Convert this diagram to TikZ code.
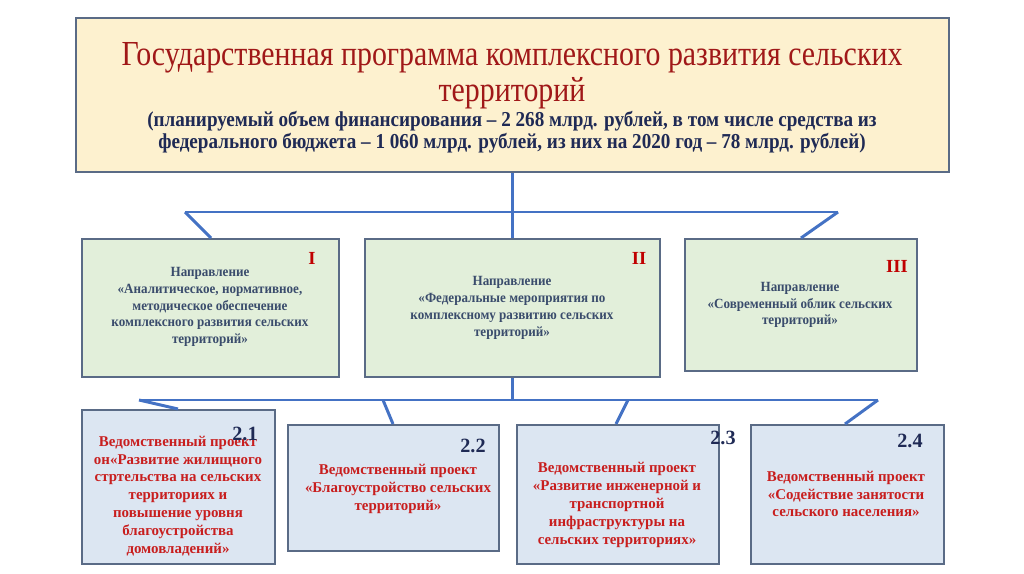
\documentclass[tikz,border=0pt]{standalone}
\usepackage{fontspec}
\setmainfont{Liberation Serif}
\newfontfamily\titlefont[FakeStretch=0.85]{Liberation Serif}
\newfontfamily\subfont[FakeStretch=0.9]{Liberation Serif}
\newfontfamily\dirfont[FakeStretch=0.93]{Liberation Serif}
\definecolor{lineblue}{HTML}{4472C4}
\definecolor{boxedge}{HTML}{5A6B86}
\definecolor{topfill}{HTML}{FDF1CF}
\definecolor{greenfill}{HTML}{E2EFDA}
\definecolor{bluefill}{HTML}{DCE6F2}
\definecolor{titlered}{HTML}{A01818}
\definecolor{navy}{HTML}{1F2A55}
\definecolor{dirtext}{HTML}{3A4C6C}
\definecolor{projred}{HTML}{C81E1E}
\definecolor{numred}{HTML}{C00000}
\tikzset{
  frame/.style={draw=boxedge, line width=0.9pt, inner sep=0pt},
  topbox/.style={frame, fill=topfill},
  dirbox/.style={frame, fill=greenfill},
  projbox/.style={frame, fill=bluefill},
  conn/.style={draw=lineblue, line width=1.7pt},
  dirtxt/.style={align=center, text=dirtext, font=\fontsize{8}{9.6}\selectfont\dirfont\bfseries, inner sep=0pt},
  projtxt/.style={align=center, text=projred, font=\fontsize{8.5}{10.2}\selectfont\bfseries, inner sep=0pt},
  roman/.style={text=numred, font=\fontsize{10.5}{12}\selectfont\bfseries, inner sep=0pt},
  projnum/.style={text=navy, font=\fontsize{11.5}{13}\selectfont\bfseries, inner sep=0pt},
}
\begin{document}
\begin{tikzpicture}[x=0.02cm, y=-0.02cm]
\useasboundingbox (0,0) rectangle (1024,574);
% top box
\node[topbox, anchor=north west, minimum width=873*0.02cm, minimum height=154*0.02cm] (top) at (75,17) {};
\node[align=center, text=titlered, font=\fontsize{20}{20.4}\selectfont\titlefont, inner sep=0pt] (title) at (512,76)
  {Государственная программа комплексного развития сельских\\территорий};
\node[align=center, text=navy, font=\fontsize{12.1}{12.5}\selectfont\subfont\bfseries, inner sep=0pt] (sub) at (512,132)
  {(планируемый объем финансирования – 2 268 млрд. рублей, в том числе средства из\\федерального бюджета – 1 060 млрд. рублей, из них на 2020 год – 78 млрд. рублей)};
% direction boxes
\node[dirbox, anchor=north west, minimum width=257*0.02cm, minimum height=138*0.02cm] (d1) at (81,238) {};
\node[dirbox, anchor=north west, minimum width=295*0.02cm, minimum height=138*0.02cm] (d2) at (364,238) {};
\node[dirbox, anchor=north west, minimum width=232*0.02cm, minimum height=132*0.02cm] (d3) at (684,238) {};
\node[roman] (r1) at (312,258) {I};
\node[roman] (r2) at (639,258) {II};
\node[roman] (r3) at (897,266) {III};
\node[dirtxt] (t1) at (210,307) {Направление\\«Аналитическое, нормативное,\\методическое обеспечение\\комплексного развития сельских\\территорий»};
\node[dirtxt] (t2) at (512,308) {Направление\\«Федеральные мероприятия по\\комплексному развитию сельских\\территорий»};
\node[dirtxt] (t3) at (800,305) {Направление\\«Современный облик сельских\\территорий»};
% project boxes
\node[projbox, anchor=north west, minimum width=193*0.02cm, minimum height=154*0.02cm] (p1) at (81,409) {};
\node[projbox, anchor=north west, minimum width=211*0.02cm, minimum height=126*0.02cm] (p2) at (287,424) {};
\node[projbox, anchor=north west, minimum width=202*0.02cm, minimum height=139*0.02cm] (p3) at (516,424) {};
\node[projbox, anchor=north west, minimum width=193*0.02cm, minimum height=139*0.02cm] (p4) at (750,424) {};
\node[projtxt] (u1) at (178,496) {Ведомственный проект\\он«Развитие жилищного\\стртельства на сельских\\территориях и\\повышение уровня\\благоустройства\\домовладений»};
\node[projtxt] (u2) at (398,489) {Ведомственный проект\\«Благоустройство сельских\\территорий»};
\node[projtxt] (u3) at (617,505) {Ведомственный проект\\«Развитие инженерной и\\транспортной\\инфраструктуры на\\сельских территориях»};
\node[projtxt] (u4) at (846,494) {Ведомственный проект\\«Содействие занятости\\сельского населения»};
\node[projnum] (n1) at (245,434) {2.1};
\node[projnum] (n2) at (473,446) {2.2};
\node[projnum] (n3) at (723,438) {2.3};
\node[projnum] (n4) at (910,441) {2.4};
% connectors level 1
\coordinate (a1L) at (185,212);
\coordinate (a1R) at (838,212);
\coordinate (e1) at (211,238);
\coordinate (e3) at (801,238);
\draw[conn] (top.south) -- (d2.north);
\draw[conn] (a1L) -- (a1R);
\draw[conn] (a1L) -- (e1);
\draw[conn] (a1R) -- (e3);
% connectors level 2
\coordinate (a2L) at (139,400);
\coordinate (a2R) at (878,400);
\coordinate (k2) at (383,400);
\coordinate (k3) at (628,400);
\coordinate (f1) at (178,409);
\coordinate (f2) at (393,424);
\coordinate (f3) at (616,424);
\coordinate (f4) at (845,424);
\draw[conn] (d2.south) -- (d2.south |- a2L);
\draw[conn] (a2L) -- (a2R);
\draw[conn] (a2L) -- (f1);
\draw[conn] (k2) -- (f2);
\draw[conn] (k3) -- (f3);
\draw[conn] (a2R) -- (f4);
\end{tikzpicture}
\end{document}
